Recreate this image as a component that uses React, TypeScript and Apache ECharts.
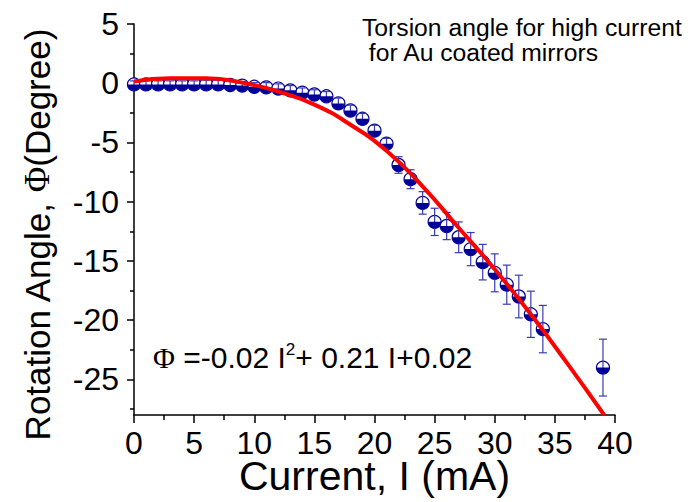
import React, { useEffect, useRef } from "react";
import * as echarts from "echarts";

const CURRENT_MA = [0, 1, 2, 3, 4, 5, 6, 7, 8, 9, 10, 11, 12, 13, 14, 15, 16, 17, 18, 19, 20, 21, 22, 23, 24, 25, 26, 27, 28, 29, 30, 31, 32, 33, 34, 39];
const ANGLE_DEG = [-0.1, -0.1, -0.1, -0.1, -0.1, -0.1, -0.1, -0.1, -0.15, -0.2, -0.3, -0.35, -0.45, -0.6, -0.8, -0.95, -1.1, -1.7, -2.3, -3.0, -4.0, -5.1, -6.9, -8.1, -10.1, -11.7, -12.05, -13.0, -14.0, -15.1, -16.0, -17.0, -18.0, -19.5, -20.75, -24.0];
const ANGLE_ERR = [0.3, 0.3, 0.3, 0.3, 0.3, 0.3, 0.35, 0.35, 0.35, 0.35, 0.35, 0.4, 0.4, 0.4, 0.4, 0.4, 0.4, 0.45, 0.45, 0.45, 0.45, 0.45, 0.7, 0.8, 0.95, 1.15, 1.15, 1.3, 1.4, 1.5, 1.6, 1.65, 1.8, 1.95, 2.0, 2.4];

// Fit curve, sampled from the red line in the reference
const FIT_CURRENT = [0, 3, 6, 9, 12, 15, 18, 21, 24, 27, 30, 33, 36, 39.1];
const FIT_ANGLE = [0.15, 0.42, 0.42, 0.05, -0.7, -1.8, -3.5, -5.7, -8.7, -12.2, -15.7, -19.5, -23.6, -28];

// Axis ticks
const X_TICKS = [0, 5, 10, 15, 20, 25, 30, 35, 40];
const Y_TICKS = [-25, -20, -15, -10, -5, 0, 5];
const Y_MINOR_TICKS = [-27.5, -22.5, -17.5, -12.5, -7.5, -2.5, 2.5];

const NAVY = "#000099";
const ERR_COLOR = "#3a3ab4";
const FONT = "'Liberation Sans', Arial, Helvetica, sans-serif";
const SERIF = "'Liberation Serif', 'DejaVu Serif', serif";

export default function App() {
  const ref = useRef<HTMLDivElement>(null);

  useEffect(() => {
    document.body.style.margin = "0";
    if (!ref.current) return;
    const chart = echarts.init(ref.current, undefined, { renderer: "svg" });

    const points = CURRENT_MA.map((x, i) => [x, ANGLE_DEG[i]]);
    const errData = CURRENT_MA.map((x, i) => [x, ANGLE_DEG[i], ANGLE_ERR[i]]);
    const fit = FIT_CURRENT.map((x, i) => [x, FIT_ANGLE[i]]);

    const option: any = {
      animation: false,
      backgroundColor: "#ffffff",
      grid: { left: 134, right: 79, top: 24, bottom: 87, containLabel: false, outerBoundsMode: "none" },
      xAxis: {
        type: "value",
        min: X_TICKS[0],
        max: X_TICKS[X_TICKS.length - 1],
        interval: 5,
        axisLine: { onZero: false, lineStyle: { color: "#000", width: 1.5 } },
        axisTick: { inside: false, length: 8, lineStyle: { color: "#000", width: 1.5 } },
        minorTick: { show: true, splitNumber: 2, length: 5, lineStyle: { color: "#000", width: 1.5 } },
        splitLine: { show: false },
        minorSplitLine: { show: false },
        axisLabel: { fontSize: 32, lineHeight: 28, color: "#000", margin: 14, fontFamily: FONT },
      },
      yAxis: [
        {
          type: "value",
          min: -28,
          max: 5,
          position: "left",
          axisLine: { onZero: false, lineStyle: { color: "#000", width: 1.5 } },
          axisTick: { inside: false, length: 7, customValues: Y_TICKS, lineStyle: { color: "#000", width: 1.5 } },
          splitLine: { show: false },
          axisLabel: { fontSize: 32, color: "#000", margin: 15, fontFamily: FONT, customValues: Y_TICKS },
        },
        {
          type: "value",
          min: -28,
          max: 5,
          position: "left",
          offset: 0,
          axisLine: { show: false },
          axisTick: { show: true, inside: false, length: 4, customValues: Y_MINOR_TICKS, lineStyle: { color: "#000", width: 1.5 } },
          splitLine: { show: false },
          axisLabel: { show: false, customValues: Y_MINOR_TICKS },
        },
      ],
      graphic: [
        {
          type: "text",
          x: 374.5,
          y: 476,
          style: { text: "Current, I (mA)", font: `41px ${FONT}`, lineHeight: 34, fill: "#000", align: "center", verticalAlign: "middle" },
        },
        {
          type: "text",
          x: 37,
          y: 235,
          rotation: Math.PI / 2,
          style: {
            text: "{a|Rotation Angle, }{p|Φ}{a|(Degree)}",
            align: "center",
            verticalAlign: "middle",
            fill: "#000",
            rich: {
              a: { fontSize: 35, fontFamily: FONT, fill: "#000" },
              p: { fontSize: 35, fontFamily: SERIF, fill: "#000" },
            },
          },
        },
        {
          type: "text",
          x: 362,
          y: 27.6,
          style: { text: "Torsion angle for high current", font: `24.7px ${FONT}`, fill: "#000", align: "left", verticalAlign: "middle" },
        },
        {
          type: "text",
          x: 362,
          y: 52.6,
          style: { text: " for Au coated mirrors", font: `24.7px ${FONT}`, fill: "#000", align: "left", verticalAlign: "middle" },
        },
        {
          type: "text",
          x: 153,
          y: 357,
          style: {
            text: "{p|Φ}{a| =-0.02 I}{s|2}{a|+ 0.21 I+0.02}",
            align: "left",
            verticalAlign: "middle",
            rich: {
              a: { fontSize: 30, fontFamily: FONT, fill: "#000" },
              p: { fontSize: 30, fontFamily: SERIF, fill: "#000" },
              s: { fontSize: 17, fontFamily: FONT, fill: "#000", verticalAlign: "top", padding: [0, 0, 16, 0] },
            },
          },
        },
      ],
      series: [
        {
          type: "scatter",
          data: points,
          symbol: "circle",
          symbolSize: 13,
          itemStyle: { color: "#ffffff", borderColor: NAVY, borderWidth: 1.2, opacity: 1 },
          z: 2,
        },
        {
          type: "custom",
          data: errData,
          z: 3,
          renderItem: (params: any, api: any) => {
            const x = api.value(0);
            const y = api.value(1);
            const e = api.value(2);
            const top = api.coord([x, y + e]);
            const bot = api.coord([x, y - e]);
            const cap = 4;
            const style = { stroke: ERR_COLOR, lineWidth: 1.2, fill: "none" };
            return {
              type: "group",
              children: [
                { type: "line", shape: { x1: top[0], y1: top[1], x2: bot[0], y2: bot[1] }, style },
                { type: "line", shape: { x1: top[0] - cap, y1: top[1], x2: top[0] + cap, y2: top[1] }, style },
                { type: "line", shape: { x1: bot[0] - cap, y1: bot[1], x2: bot[0] + cap, y2: bot[1] }, style },
              ],
            };
          },
        },
        {
          type: "scatter",
          data: points,
          symbol: "path://M0,0 A10,10 0 0 0 20,0 Z",
          symbolSize: [13, 6.5],
          symbolOffset: [0, 3.25],
          itemStyle: { color: NAVY, opacity: 1 },
          z: 4,
        },
        {
          type: "line",
          data: fit,
          smooth: true,
          showSymbol: false,
          symbol: "none",
          lineStyle: { color: "#ff0000", width: 4 },
          z: 5,
        },
      ],
    };

    chart.setOption(option);
    return () => chart.dispose();
  }, []);

  return <div ref={ref} style={{ width: 694, height: 502 }} />;
}
